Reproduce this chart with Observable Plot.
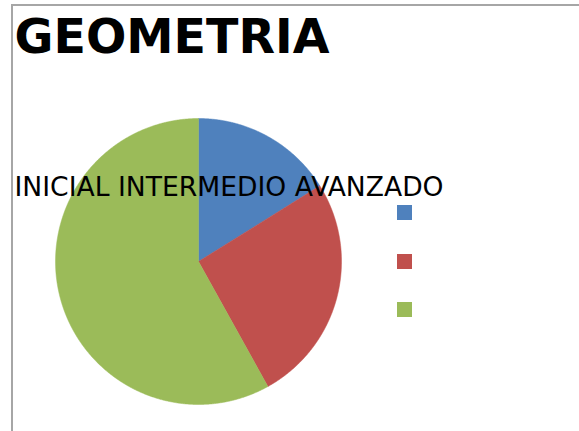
<!DOCTYPE html>
<html>
<head>
<meta charset="utf-8">
<script src="https://cdn.jsdelivr.net/npm/d3@7"></script>
<script src="https://cdn.jsdelivr.net/npm/@observablehq/plot@0.6"></script>
<style>
  html, body { margin: 0; padding: 0; width: 579px; height: 431px; overflow: hidden; background: #fff; }
  #frame { position: absolute; left: 11px; top: 4px; width: 620px; height: 520px; border: 2px solid #a6a6a6; box-sizing: border-box; }
  #chart { position: absolute; left: 0; top: 0; }
  .leg { position: absolute; width: 15px; height: 15px; }
</style>
</head>
<body>
<div id="frame"></div>
<div id="chart"></div>
<script>
const title = "GEOMETRIA";
const categories = ["INICIAL", "INTERMEDIO", "AVANZADO"];
const values = [5, 8, 18];
const colors = ["#4F81BD", "#C0504D", "#9BBB59"];

const W = 579, H = 431;
const cx = 198, cy = 261, R = 143;

const data = categories.map((c, i) => ({category: c, value: values[i]}));
const arcs = d3.pie().sort(null).value(d => d.value)(data);

const pts = [];
arcs.forEach(a => {
  const cat = a.data.category;
  pts.push({category: cat, x: 0, y: 0});
  const n = Math.max(2, Math.ceil((a.endAngle - a.startAngle) / 0.005));
  for (let k = 0; k <= n; k++) {
    const t = a.startAngle + (a.endAngle - a.startAngle) * k / n;
    pts.push({category: cat, x: Math.sin(t), y: Math.cos(t)});
  }
  pts.push({category: cat, x: 0, y: 0});
});

const plot = Plot.plot({
  width: W,
  height: H,
  margin: 0,
  style: {background: "transparent", overflow: "visible"},
  x: {domain: [-cx / R, (W - cx) / R], axis: null},
  y: {domain: [-(H - cy) / R, cy / R], axis: null},
  color: {domain: categories, range: colors},
  marks: [
    Plot.line(pts, {x: "x", y: "y", z: "category", fill: "category", stroke: "category", strokeWidth: 0.5, curve: "linear"}),
    Plot.text([title], {frameAnchor: "top-left", text: d => d, dx: 14, dy: 52, textAnchor: "start", lineAnchor: "bottom", fontFamily: "DejaVu Sans", fontWeight: "bold", fontSize: 47.5, fill: "#000"}),
    Plot.text([categories.join(" ")], {frameAnchor: "top-left", text: d => d, dx: 14, dy: 195, textAnchor: "start", lineAnchor: "bottom", fontFamily: "DejaVu Sans", fontSize: 26.6, fill: "#000"})
  ]
});
document.getElementById("chart").appendChild(plot);

// legend (symbols only, no labels, as in the reference)
categories.forEach((c, i) => {
  const d = document.createElement("div");
  d.className = "leg";
  d.style.left = "397px";
  d.style.top = (205 + i * 48.5) + "px";
  d.style.background = colors[i];
  d.title = c;
  document.body.appendChild(d);
});
</script>
</body>
</html>
